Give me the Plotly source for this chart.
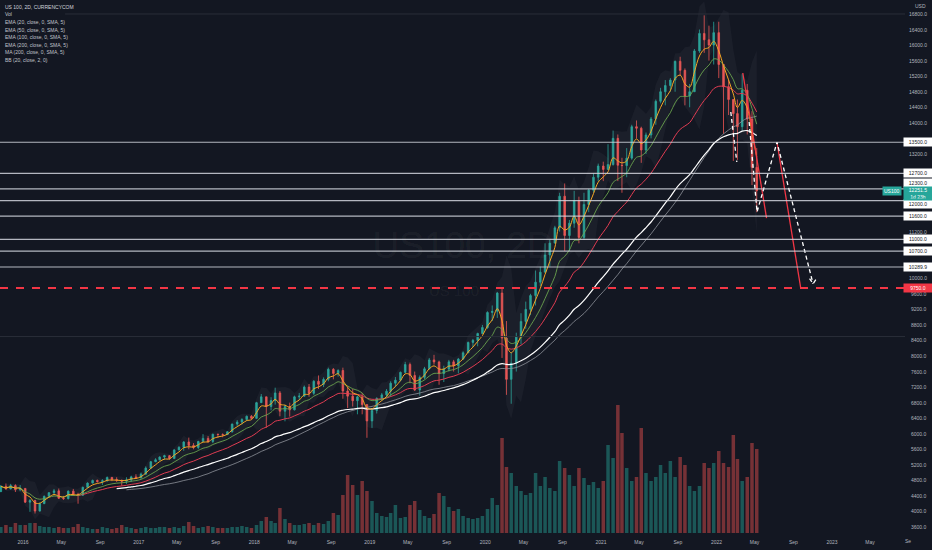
import numpy as np
import pandas as pd
import plotly.graph_objects as go

# ---------------- data (semi-monthly bars) ----------------
open_first = 4510
close_2015 = [4648, 4580, 4665, 4560, 4593]
high_2015 = [4680, 4720, 4710, 4700, 4680]
low_2015 = [4500, 4560, 4570, 4500, 4520]

close_2016 = [4240, 4280, 4010, 4201, 4390, 4483, 4530, 4341, 4330, 4523, 4440, 4417,
              4620, 4730, 4800, 4771, 4790, 4875, 4820, 4801, 4780, 4810, 4890, 4863]
high_2016 = [4600, 4320, 4300, 4230, 4410, 4500, 4580, 4590, 4400, 4540, 4580, 4480,
             4640, 4750, 4820, 4820, 4830, 4900, 4890, 4880, 4820, 4880, 4920, 4960]
low_2016 = [4220, 3990, 3947, 4000, 4190, 4370, 4420, 4320, 4300, 4310, 4400, 4200,
            4400, 4600, 4720, 4740, 4680, 4770, 4780, 4760, 4660, 4710, 4760, 4850]

close_2017 = [4960, 5117, 5280, 5330, 5400, 5436, 5360, 5584, 5650, 5788, 5700, 5647,
              5800, 5880, 5800, 5988, 5980, 5979, 6050, 6248, 6300, 6367, 6450, 6396]
high_2017 = [5000, 5160, 5300, 5370, 5420, 5460, 5450, 5600, 5680, 5810, 5900, 5760,
             5820, 5990, 5940, 6000, 6000, 6010, 6070, 6260, 6350, 6400, 6470, 6480]
low_2017 = [4850, 4950, 5100, 5270, 5310, 5330, 5330, 5350, 5570, 5560, 5600, 5600,
            5600, 5800, 5760, 5760, 5890, 5910, 5970, 6030, 6200, 6240, 6330, 6370]

close_2018 = [6800, 6950, 6700, 6854, 7050, 6581, 6700, 6614, 6950, 6967, 7200, 7040,
              7350, 7272, 7400, 7657, 7550, 7627, 7100, 6967, 6850, 6949, 6750, 6330]
high_2018 = [6820, 7022, 6950, 6940, 7185, 7100, 6750, 6800, 6980, 7050, 7240, 7280,
             7380, 7500, 7450, 7700, 7690, 7660, 7700, 7200, 7150, 6980, 7050, 6750]
low_2018 = [6380, 6800, 6150, 6600, 6750, 6450, 6320, 6440, 6600, 6870, 6960, 6950,
            7000, 7150, 7200, 7350, 7400, 7470, 6900, 6660, 6700, 6500, 6500, 5895]

close_2019 = [6600, 6906, 7000, 7096, 7300, 7378, 7580, 7781, 7500, 7127, 7450, 7671,
              7900, 7848, 7550, 7663, 7850, 7750, 7920, 8083, 8350, 8403, 8580, 8733]
high_2019 = [6650, 6940, 7050, 7150, 7350, 7460, 7600, 7850, 7830, 7600, 7500, 7720,
             7950, 8030, 7880, 7750, 7900, 7900, 7950, 8120, 8370, 8440, 8600, 8800]
low_2019 = [6150, 6520, 6850, 6950, 6950, 7200, 7350, 7550, 7300, 7100, 6980, 7400,
            7650, 7780, 7260, 7330, 7600, 7600, 7550, 7900, 8080, 8230, 8250, 8570]

close_2020 = [9120, 9150, 9620, 8462, 7400, 7813, 8500, 8890, 9200, 9555, 9900, 10157,
              10600, 10905, 11300, 12111, 11100, 11418, 12000, 11052, 11900, 12268, 12600, 12888]
high_2020 = [9150, 9300, 9650, 9736, 8900, 8100, 8600, 9100, 9400, 9600, 10200, 10300,
             10900, 11000, 11350, 12200, 12439, 11500, 12250, 12100, 12200, 12300, 12700, 12950]
low_2020 = [8700, 8900, 8980, 7950, 7000, 6771, 7600, 8300, 8700, 9050, 9300, 9800,
            10150, 10300, 10900, 11200, 10700, 10700, 11300, 10900, 11000, 11700, 12200, 12500]

close_2021 = [12800, 12925, 13600, 12909, 12900, 13091, 13900, 13861, 13300, 13687, 14100, 14554,
              14800, 14960, 15100, 15583, 15350, 14689, 14800, 15850, 16300, 16135, 16000, 16320]
high_2021 = [13000, 13450, 13800, 13700, 13100, 13350, 13950, 14060, 13900, 13750, 14150, 14600,
             14900, 15100, 15150, 15600, 15700, 15400, 15000, 15900, 16400, 16765, 16500, 16600]
low_2021 = [12500, 12800, 12900, 12500, 12200, 12600, 13050, 13600, 12970, 13200, 13600, 13950,
            14500, 14450, 14800, 14800, 15200, 14450, 14400, 14800, 15800, 15800, 15600, 15500]

close_2022 = [15500, 14930, 14600, 14237, 13900, 14838, 14100, 12854, 12251.5]
high_2022 = [16600, 15500, 15100, 14600, 14600, 15265, 15000, 14300, 13350]
low_2022 = [15150, 13720, 14200, 13020, 13046, 13800, 13700, 12400, 11700]

vol_2015 = [6, 8, 6, 10, 8]
vol_2016 = [8, 10, 10, 7, 6, 6, 5, 6, 5, 5, 6, 9, 6, 5, 4, 4, 6, 5, 4, 5, 8, 6, 5, 4]
vol_2017 = [5, 6, 5, 5, 6, 6, 5, 6, 5, 7, 11, 7, 5, 6, 7, 6, 5, 5, 5, 6, 6, 7, 6, 5]
vol_2018 = [8, 12, 16, 12, 10, 25, 14, 10, 8, 8, 9, 10, 8, 10, 9, 12, 20, 18, 38, 58, 48, 38, 52, 42]
vol_2019 = [32, 20, 17, 16, 20, 28, 15, 16, 28, 32, 23, 17, 15, 19, 40, 37, 26, 22, 24, 17, 15, 14, 15, 17]
vol_2020 = [24, 35, 28, 95, 66, 60, 47, 42, 38, 40, 60, 47, 56, 45, 42, 72, 65, 58, 47, 65, 55, 48, 51, 45]
vol_2021 = [52, 88, 75, 128, 100, 65, 52, 56, 105, 60, 52, 56, 68, 60, 72, 56, 76, 68, 47, 42, 47, 70, 65, 70]
vol_2022 = [82, 70, 66, 98, 74, 52, 56, 90, 84]

# horizontal levels drawn on the chart
level_prices = [13500, 12700, 12300, 12000, 11600, 11000, 10700, 10289.9]
level_labels = ["13500.0", "12700.0", "12300.0", "12000.0", "11600.0", "11000.0", "10700.0", "10289.9"]
level_label_shift = [0, 0, 6, -3, 0, 0, 0, 0]
target_price = 9750
target_label = "9750.0"
faint_levels = [16800, 8500]
faint_starts = ["2016-05-13", "2015-10-01"]
last_price = 12251.5
last_label = "12251.5"
countdown = "1d 23h"

# projection drawings
red1_dates = ["2022-03-25", "2022-06-08"]
red1_prices = [15282, 11550]
red2_dates = ["2022-07-11", "2022-09-24"]
red2_prices = [13500, 9750]
dash0_dates = ["2022-02-15", "2022-03-06"]
dash0_prices = [14278, 12992]
wave_dates = ["2022-04-14", "2022-05-09", "2022-07-11", "2022-11-02"]
wave_prices = [14021, 11705, 13500, 9860]
arrow_dates = ["2022-10-22", "2022-11-02", "2022-11-13"]
arrow_prices = [9990, 9860, 9990]

# axis ticks
y_ticks = list(range(3600, 16801, 400))
x_tick_dates = ["2016-01-01", "2016-05-01", "2016-09-01", "2017-01-01", "2017-05-01", "2017-09-01",
                "2018-01-01", "2018-05-01", "2018-09-01", "2019-01-01", "2019-05-01", "2019-09-01",
                "2020-01-01", "2020-05-01", "2020-09-01", "2021-01-01", "2021-05-01", "2021-09-01",
                "2022-01-01", "2022-05-01", "2022-09-01", "2023-01-01", "2023-05-01"]
x_tick_text = ["2016", "May", "Sep", "2017", "May", "Sep", "2018", "May", "Sep", "2019", "May", "Sep",
               "2020", "May", "Sep", "2021", "May", "Sep", "2022", "May", "Sep", "2023", "May"]

legend_lines = ["US 100, 2D, CURRENCYCOM", "Vol", "EMA (20, close, 0, SMA, 5)", "EMA (50, close, 0, SMA, 5)",
                "EMA (100, close, 0, SMA, 5)", "EMA (200, close, 0, SMA, 5)", "MA (200, close, 0, SMA, 5)",
                "BB (20, close, 2, 0)"]

# ---------------- assemble ----------------
dates = []
for yr in range(2015, 2023):
    for mo in range(1, 13):
        for d in (8, 23):
            t = pd.Timestamp(yr, mo, d)
            if pd.Timestamp(2015, 10, 23) <= t <= pd.Timestamp(2022, 5, 8):
                dates.append(t)

close = np.array(close_2015 + close_2016 + close_2017 + close_2018 + close_2019 + close_2020 + close_2021 + close_2022, float)
high = np.array(high_2015 + high_2016 + high_2017 + high_2018 + high_2019 + high_2020 + high_2021 + high_2022, float)
low = np.array(low_2015 + low_2016 + low_2017 + low_2018 + low_2019 + low_2020 + low_2021 + low_2022, float)
vol = np.array(vol_2015 + vol_2016 + vol_2017 + vol_2018 + vol_2019 + vol_2020 + vol_2021 + vol_2022, float)
opn = np.concatenate([[open_first], close[:-1]])
assert len(dates) == len(close) == len(high) == len(low) == len(vol)

s = pd.Series(close, index=pd.DatetimeIndex(dates))
ema20 = s.ewm(span=3.8).mean()
ema50 = s.ewm(span=9.5).mean()
ema100 = s.ewm(span=19).mean()
ema200 = s.ewm(span=38).mean()
ma200 = s.rolling(37, min_periods=1).mean()
ema100[ema100.index < "2016-06-20"] = np.nan
ema200[ema200.index < "2016-10-20"] = np.nan
ma200[ma200.index < "2016-11-20"] = np.nan
bb_mid = s.rolling(4, min_periods=2).mean()
bb_sd = s.rolling(4, min_periods=2).std()
bb_up = bb_mid + 2 * bb_sd
bb_lo = bb_mid - 2 * bb_sd

BG = "#131722"
TXT = "#b2b5be"
FONT = "Liberation Sans, Arial, sans-serif"
TEAL = "#26a69a"
RED = "#ef5350"

# layout geometry (pixels): plot pane 905 x 533
PW, PH = 905, 533
px_per_day = 0.3164
anchor = pd.Timestamp("2016-01-01")
x0 = anchor - pd.Timedelta(days=23 / px_per_day)
x1 = anchor + pd.Timedelta(days=(PW - 23) / px_per_day)
y_top, y_bot = 17160, 3446
px_per_pt = PH / (y_top - y_bot)

fig = go.Figure()

def xy_at(px, py):
    xd = x0 + (x1 - x0) * (px / PW)
    yd = y_top - (y_top - y_bot) * (py / PH)
    return xd, yd

# watermark (drawn first, behind everything)
wx, wy = xy_at(463, 249)
fig.add_trace(go.Scatter(x=[wx], y=[wy], mode="text", text=["US100, 2D"],
                         textfont=dict(size=37, color="rgba(255,255,255,0.055)", family=FONT),
                         hoverinfo="skip", showlegend=False))
wx2, wy2 = xy_at(454, 292)
fig.add_trace(go.Scatter(x=[wx2], y=[wy2], mode="text", text=["US 100"],
                         textfont=dict(size=15, color="rgba(255,255,255,0.055)", family=FONT),
                         hoverinfo="skip", showlegend=False))

# Bollinger band fill
fig.add_trace(go.Scatter(x=s.index, y=bb_lo, mode="lines", line=dict(width=0), hoverinfo="skip", showlegend=False))
fig.add_trace(go.Scatter(x=s.index, y=bb_up, mode="lines", line=dict(width=0), fill="tonexty",
                         fillcolor="rgba(140,145,160,0.07)", hoverinfo="skip", showlegend=False))

# volume
vcol = ["rgba(38,166,154,0.45)" if c >= o else "rgba(239,83,80,0.45)" for o, c in zip(opn, close)]
fig.add_trace(go.Bar(x=s.index, y=vol, marker=dict(color=vcol, line=dict(width=0)), yaxis="y2",
                     hoverinfo="skip", showlegend=False))

# candles
fig.add_trace(go.Candlestick(x=s.index, open=opn, high=high, low=low, close=close,
                             increasing=dict(line=dict(color=TEAL, width=0.8), fillcolor=TEAL),
                             decreasing=dict(line=dict(color=RED, width=0.8), fillcolor=RED),
                             whiskerwidth=0, showlegend=False, hoverinfo="skip"))

# moving averages
for ser, col, w in [(ma200, "rgba(150,153,162,0.75)", 1), (ema200, "#ffffff", 1.2),
                    (ema100, "#e03c52", 1), (ema50, "rgba(110,170,80,0.85)", 1), (ema20, "#f5a623", 1)]:
    fig.add_trace(go.Scatter(x=ser.index, y=ser.values, mode="lines", line=dict(color=col, width=w, shape="spline"),
                             hoverinfo="skip", showlegend=False))

# horizontal levels
for p, st in zip(faint_levels, faint_starts):
    fig.add_shape(type="line", xref="x", yref="y", x0=st, x1=x1, y0=p, y1=p,
                  line=dict(color="#2a2e39", width=1))
for p in level_prices:
    fig.add_shape(type="line", xref="paper", yref="y", x0=0, x1=1, y0=p, y1=p,
                  line=dict(color="rgba(209,212,220,0.85)", width=1.2))
fig.add_shape(type="line", xref="paper", yref="y", x0=0, x1=1, y0=target_price, y1=target_price,
              line=dict(color="#f23645", width=2, dash="8px,8px"))

# projection drawings
fig.add_trace(go.Scatter(x=red1_dates, y=red1_prices, mode="lines", line=dict(color="#f23645", width=1.3),
                         hoverinfo="skip", showlegend=False))
fig.add_trace(go.Scatter(x=red2_dates, y=red2_prices, mode="lines", line=dict(color="#f23645", width=1.3),
                         hoverinfo="skip", showlegend=False))
for xs, ys in [(dash0_dates, dash0_prices), (wave_dates, wave_prices), (arrow_dates, arrow_prices)]:
    fig.add_trace(go.Scatter(x=xs, y=ys, mode="lines", line=dict(color="#ffffff", width=1.3, dash="4px,3px"),
                             hoverinfo="skip", showlegend=False))

# ---------------- annotations ----------------
ann = []
def px2paper(px, py):
    return px / PW, 1 - py / PH

for i, t in enumerate(legend_lines):
    xp, yp = px2paper(3, 7 + 7.5 * i)
    ann.append(dict(xref="paper", yref="paper", x=xp, y=yp, xanchor="left", yanchor="middle", text=t,
                    showarrow=False, font=dict(size=5, color="#d1d4dc" if i == 0 else "#c0c3cb", family=FONT)))

# price-scale labels: those covered by a label box are not shown (as in the reference)
box_centres = [p * px_per_pt + sh for p, sh in zip(level_prices, level_label_shift)]
box_centres += [target_price * px_per_pt, last_price * px_per_pt - 3]
for v in y_ticks:
    if any(abs(v * px_per_pt - c) < 5.5 for c in box_centres):
        continue
    ann.append(dict(xref="paper", yref="y", x=929 / PW, y=v, xanchor="right", yanchor="middle",
                    text=f"{v}.0", showarrow=False, font=dict(size=5, color=TXT, family=FONT)))
xp, yp = px2paper(920, 6)
ann.append(dict(xref="paper", yref="paper", x=xp, y=yp, xanchor="center", yanchor="middle", text="USD",
                showarrow=False, font=dict(size=5, color=TXT, family=FONT)))

for p, lab, sh in zip(level_prices, level_labels, level_label_shift):
    ann.append(dict(xref="paper", yref="y", x=903 / PW, y=p, xanchor="left", yanchor="middle", yshift=sh,
                    text=lab, showarrow=False, bgcolor="#ffffff", borderpad=1, width=26, height=6,
                    font=dict(size=5, color="#131722", family=FONT)))
ann.append(dict(xref="paper", yref="y", x=903 / PW, y=target_price, xanchor="left", yanchor="middle",
                text=target_label, showarrow=False, bgcolor="#f23645", borderpad=1, width=26, height=6,
                font=dict(size=5, color="#ffffff", family=FONT)))
ann.append(dict(xref="paper", yref="y", x=903 / PW, y=last_price, xanchor="left", yanchor="middle", yshift=-2.7,
                text=last_label + "<br>" + countdown, showarrow=False, bgcolor=TEAL, borderpad=1, width=26,
                height=10.5, font=dict(size=5, color="#ffffff", family=FONT)))
ann.append(dict(xref="paper", yref="y", x=902 / PW, y=last_price, xanchor="right", yanchor="middle",
                text="US100", showarrow=False, bgcolor=TEAL, borderpad=1,
                font=dict(size=5, color="#ffffff", family=FONT)))
xp, yp = px2paper(908, 541)
ann.append(dict(xref="paper", yref="paper", x=xp, y=yp, xanchor="center", yanchor="middle", text="Se",
                showarrow=False, font=dict(size=5, color=TXT, family=FONT)))

fig.update_layout(
    width=932, height=550,
    margin=dict(l=0, r=932 - PW, t=0, b=550 - PH),
    paper_bgcolor=BG, plot_bgcolor=BG,
    showlegend=False, hovermode=False, bargap=0.15, boxgap=0.45,
    annotations=ann,
    xaxis=dict(type="date", range=[x0, x1], showgrid=False, zeroline=False, showline=False,
               tickvals=x_tick_dates, ticktext=x_tick_text, ticks="outside", ticklen=4, tickcolor=BG,
               tickfont=dict(size=5, color=TXT, family=FONT), rangeslider=dict(visible=False), fixedrange=True),
    yaxis=dict(range=[y_bot, y_top], showgrid=False, zeroline=False, showticklabels=False, fixedrange=True),
    yaxis2=dict(range=[0, PH], overlaying="y", showgrid=False, zeroline=False, showticklabels=False,
                fixedrange=True),
)

fig.write_html("out.html", config={"displayModeBar": False},
               post_script="document.body.style.margin='0';document.body.style.padding='0';"
                           "document.body.style.overflow='hidden';document.body.style.background='#131722';")
